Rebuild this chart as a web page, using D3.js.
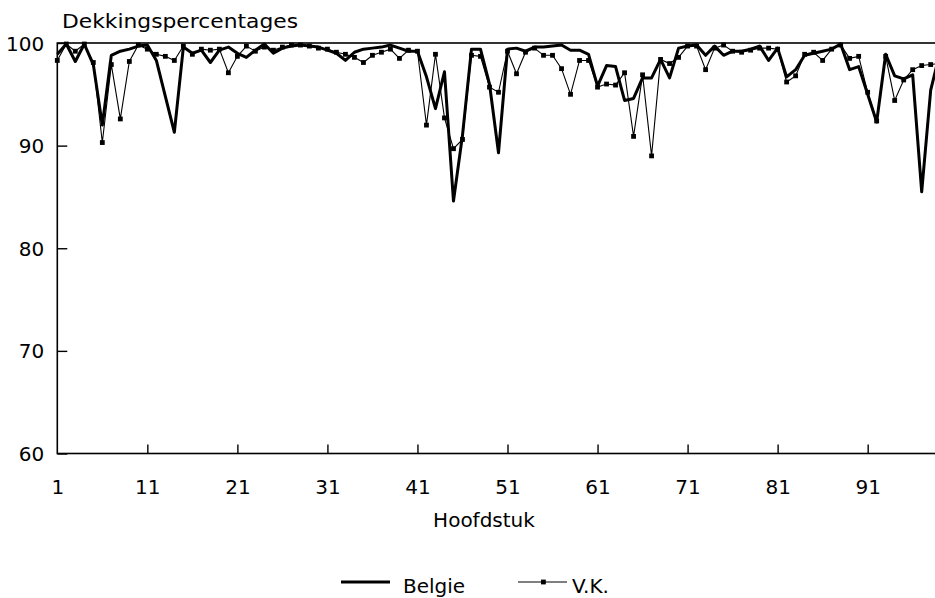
<!DOCTYPE html>
<html><head><meta charset="utf-8">
<script src="https://cdn.jsdelivr.net/npm/d3@7"></script>
<style>
html,body{margin:0;padding:0;background:#fff;}
svg{display:block;}
text{font-family:"DejaVu Sans",sans-serif;fill:#000;}
</style></head>
<body><svg id="c" width="935" height="598"></svg>
<script>
const chapters = d3.range(1, 100);
const belgie = [98.9,99.9,98.2,99.9,97.9,92.0,98.8,99.2,99.4,99.7,
99.8,98.3,94.8,91.3,99.6,99.0,99.3,98.1,99.3,99.6,
99.0,98.6,99.3,99.9,99.0,99.5,99.7,99.8,99.7,99.6,
99.3,99.0,98.3,99.1,99.4,99.5,99.6,99.8,99.5,99.2,
99.2,96.7,93.6,97.2,84.6,91.0,99.4,99.4,96.0,89.3,
99.4,99.5,99.2,99.6,99.6,99.7,99.8,99.3,99.3,98.9,
95.8,97.8,97.7,94.4,94.6,96.6,96.6,98.4,96.6,99.5,
99.7,99.8,98.8,99.7,98.8,99.2,99.2,99.4,99.7,98.3,
99.5,96.7,97.4,98.8,99.0,99.2,99.4,99.9,97.4,97.7,
95.0,92.3,98.9,96.8,96.5,96.9,85.5,95.4,99.0];
const vk = [98.3,99.9,99.2,99.9,98.1,90.3,97.9,92.6,98.2,99.8,
99.4,98.9,98.7,98.3,99.7,98.9,99.4,99.3,99.4,97.1,
98.7,99.7,99.2,99.6,99.3,99.6,99.8,99.8,99.7,99.5,
99.4,99.1,98.9,98.6,98.1,98.8,99.1,99.4,98.5,99.3,
99.2,92.0,98.9,92.7,89.7,90.6,98.8,98.7,95.7,95.2,
99.2,97.0,99.1,99.5,98.8,98.8,97.5,95.0,98.3,98.3,
95.7,96.0,95.9,97.1,90.9,96.9,89.0,98.4,98.0,98.6,
99.7,99.7,97.4,99.5,99.8,99.2,99.1,99.3,99.5,99.5,
99.4,96.2,96.8,98.9,99.1,98.3,99.4,99.8,98.5,98.7,
95.2,92.4,98.7,94.4,96.4,97.4,97.8,97.9,98.0];
const xTicks = [1,11,21,31,41,51,61,71,81,91];
const yTicks = [60,70,80,90,100];
const titleText = "Dekkingspercentages";
const xTitle = "Hoofdstuk";
const seriesNames = ["Belgie","V.K."];

const svg = d3.select("#c");
const x = d3.scaleLinear().domain([1,99]).range([57.3, 939.7]);
const y = d3.scaleLinear().domain([60,100]).range([453.5, 43]);

// frame
svg.append("rect").attr("x", x(1)).attr("y", y(100))
  .attr("width", x(99)-x(1)).attr("height", y(60)-y(100))
  .attr("fill","none").attr("stroke","#000").attr("stroke-width",1.6);

// y axis
const yAxis = d3.axisLeft(y).tickValues(yTicks).tickSize(-10).tickPadding(13).tickFormat(d3.format("d"));
const gy = svg.append("g").attr("transform",`translate(${x(1)},0)`).call(yAxis);
gy.select(".domain").remove();
gy.selectAll("line").attr("stroke","#000").attr("stroke-width",1.4);
gy.selectAll("text").style("font-size","20px").attr("dy","0.35em");

// x axis
const xAxis = d3.axisBottom(x).tickValues(xTicks).tickSize(-9).tickPadding(26).tickFormat(d3.format("d"));
const gx = svg.append("g").attr("transform",`translate(0,${y(60)})`).call(xAxis);
gx.select(".domain").remove();
gx.selectAll("line").attr("stroke","#000").attr("stroke-width",1.4).filter(d=>d===1).remove();
gx.selectAll("text").style("font-size","20px");

// title
svg.append("text").attr("x",62).attr("y",28).style("font-size","20px")
  .attr("textLength",236).attr("lengthAdjust","spacingAndGlyphs").text(titleText);
svg.append("text").attr("x",484).attr("y",527).attr("text-anchor","middle").style("font-size","20px").text(xTitle);

const line = d3.line().x((d,i)=>x(chapters[i])).y(d=>y(d));

svg.append("path").datum(vk).attr("d",line).attr("fill","none").attr("stroke","#000").attr("stroke-width",1.1);
svg.append("g").selectAll("rect").data(vk).join("rect")
  .attr("x",(d,i)=>x(chapters[i])-2.4).attr("y",d=>y(d)-2.4).attr("width",4.8).attr("height",4.8).attr("fill","#000");
svg.append("path").datum(belgie).attr("d",line).attr("fill","none").attr("stroke","#000").attr("stroke-width",3).attr("stroke-linejoin","round");

// legend
const lg = svg.append("g");
lg.append("line").attr("x1",341).attr("x2",390).attr("y1",582).attr("y2",582).attr("stroke","#000").attr("stroke-width",3);
lg.append("text").attr("x",403).attr("y",593).style("font-size","20px").text(seriesNames[0]);
lg.append("line").attr("x1",518).attr("x2",567).attr("y1",582).attr("y2",582).attr("stroke","#000").attr("stroke-width",1.1);
lg.append("rect").attr("x",541).attr("y",579.6).attr("width",4.8).attr("height",4.8).attr("fill","#000");
lg.append("text").attr("x",572).attr("y",593).style("font-size","20px").text(seriesNames[1]);
</script></body></html>
